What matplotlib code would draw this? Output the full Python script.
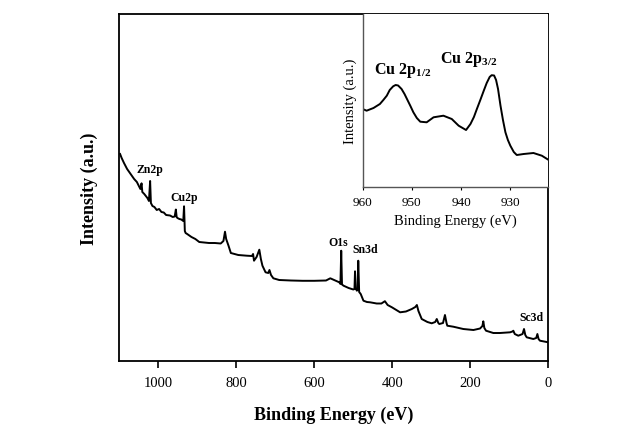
import matplotlib.pyplot as plt
import numpy as np

plt.rcParams['font.family'] = 'Liberation Serif'
plt.rcParams['mathtext.fontset'] = 'custom'
plt.rcParams['mathtext.rm'] = 'Liberation Serif'
plt.rcParams['mathtext.bf'] = 'Liberation Serif:bold'

# survey spectrum (binding energy in eV, intensity in arbitrary units)
survey_be = [1098, 1094, 1088, 1080, 1072, 1062, 1055, 1050, 1046, 1043, 1041, 1036,
             1032, 1028, 1024, 1021, 1019, 1015, 1010, 1004, 998, 992, 986, 980,
             970, 963, 958, 955, 953, 951, 946, 941, 936, 934, 932, 930, 926, 915,
             905, 895, 882, 870, 855, 840, 833, 829, 826, 820, 814,
             795, 773, 760, 757, 754.6, 748, 741, 737, 733, 725, 718, 715, 711,
             705, 690, 660, 630, 600, 570, 559, 552, 545, 536, 533, 531, 529,
             525, 512, 500, 497, 495.6, 494, 491, 489, 487.3, 485, 481, 474,
             465, 457, 440, 428, 419, 412, 401, 380, 365, 350, 341, 337, 333,
             324.6, 310, 299, 290, 286, 282, 279.5, 270, 265, 261, 259, 243.5,
             218, 192, 175, 169, 166.7, 164, 159.7, 141, 124, 98, 92, 89.7, 86,
             77, 66, 62.3, 59, 55.4, 38.5, 31, 28, 25, 21.3, 10, 0]
survey_int = [207, 203, 198, 192, 187.5, 182, 179, 175, 172, 177.7, 169, 167,
              165, 163, 160, 180, 158, 155, 154, 151, 152, 149, 148.5, 146,
              145.5, 144, 144.5, 151.5, 144, 143, 142, 141.5, 140, 154.7, 130, 128,
              127, 124, 122, 119, 118.5, 118, 118, 117.5, 120, 129.3, 122, 115.3, 108,
              106, 105.3, 105, 107, 100.3, 104, 111.3, 102, 95.3, 88.7, 88, 91, 86,
              82.7, 81, 80.5, 80.2, 80.2, 80.5, 82.7, 81.5, 80.3, 78.7, 77, 110.3, 76.5,
              75.3, 73, 71.5, 72, 89.7, 73, 70.3, 71, 100.3, 69, 67, 60.3,
              59, 58.7, 57.5, 57.5, 59.8, 56, 53.7, 48.7, 49.5, 52, 54, 56, 50,
              42, 39, 37.7, 39, 42, 38, 37, 38, 46, 38, 35.3, 34.3,
              32, 31, 32.5, 35, 39.7, 33, 30.3, 28, 28, 28.7, 29.5, 30.3, 27,
              25.3, 27, 32, 26, 23.7, 22, 23, 27, 22, 20.3, 19.5, 18.7]

# high-resolution Cu 2p region
cu_be = [960, 959.2, 957.8, 956.5, 955.8, 955.1, 954.5, 953.8, 953.3, 952.8, 952.1,
         951.5, 951, 950.3, 949.7, 949, 948.3, 947, 945.6, 943.6, 941.9, 940.5,
         939, 938.1, 937.4, 936.8, 936.1, 935.4, 934.8, 934.2, 933.8, 933.3,
         932.9, 932.5, 932, 931.5, 931, 930.5, 930, 929.3, 928.7, 927.3, 925.3,
         923.6, 922.3]
cu_int = [78, 76.3, 79, 83, 87, 91.3, 97, 100.7, 102, 101.5, 98,
          93, 88, 81, 74.7, 69, 65.3, 64.7, 69.7, 71.3, 68, 61.3,
          57, 63, 70, 78, 87, 96.3, 104, 110, 111.8, 111.5,
          107, 98, 81.3, 67, 54.7, 47, 41.3, 35, 32, 33, 34,
          31.3, 27.3]

peak_labels = ['Zn2p', 'Cu2p', 'O1s', 'Sn3d', 'Sc3d']
label_be = [1021, 935, 538, 470, 43]
label_int = [192, 164, 119, 112, 44]

fig = plt.figure(figsize=(6.24, 4.35), dpi=100)

# main survey axes
ax = fig.add_axes([0.1912, 0.1678, 0.6875, 0.7966])
ax.plot(survey_be, survey_int, color='black', lw=1.4)
ax.set_xlim(1100, 0)
ax.set_ylim(0, 346.5)
ax.set_xticks([1000, 800, 600, 400, 200, 0])
ax.set_yticks([])
ax.tick_params(axis='x', direction='out', length=5, width=1.2, labelsize=10.5,
               top=False, pad=6)
for s in ax.spines.values():
    s.set_linewidth(1.3)
ax.set_xlabel('Binding Energy (eV)', fontsize=13, fontweight='bold', labelpad=12)
ax.set_ylabel('Intensity (a.u.)', fontsize=13, fontweight='bold', labelpad=15)

for name, xb, yi in zip(peak_labels, label_be, label_int):
    ax.text(xb, yi, name, fontsize=8.5, fontweight='bold', ha='center', va='center')

# inset with the Cu 2p doublet
ins = fig.add_axes([0.5812, 0.5678, 0.2974, 0.3966])
ins.plot(cu_be, cu_int, color='black', lw=1.4)
ins.set_xlim(960, 922.3)
ins.set_ylim(0, 172.5)
ins.set_xticks([960, 950, 940, 930])
ins.set_yticks([])
ins.tick_params(axis='x', direction='out', length=2.5, width=0.8, labelsize=9.5, pad=4)
for side in ['left', 'bottom']:
    ins.spines[side].set_color('#555555')
    ins.spines[side].set_linewidth(1.0)
ins.spines['top'].set_visible(False)
ins.spines['right'].set_visible(False)
ins.set_xlabel('Binding Energy (eV)', fontsize=10.5, labelpad=4)
ins.set_ylabel('Intensity (a.u.)', fontsize=10.5, labelpad=4)
ins.text(951.8, 117, r'Cu 2p$_{\mathbf{1/2}}$', fontsize=11.5, fontweight='bold',
         ha='center', va='center')
ins.text(938.4, 128, r'Cu 2p$_{\mathbf{3/2}}$', fontsize=11.5, fontweight='bold',
         ha='center', va='center')

fig.savefig('out.png', dpi=100)
